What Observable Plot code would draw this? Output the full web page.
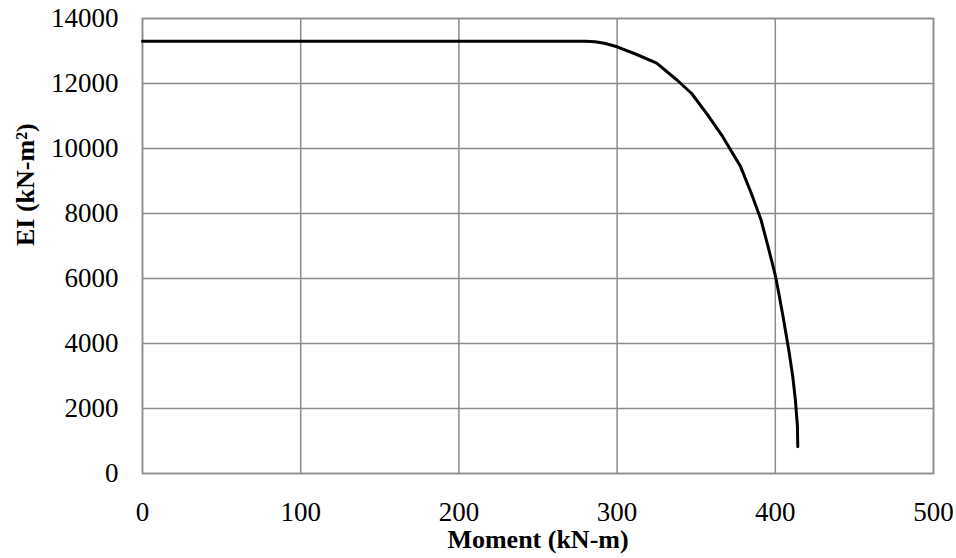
<!DOCTYPE html>
<html>
<head>
<meta charset="utf-8">
<script src="https://cdn.jsdelivr.net/npm/d3@7"></script>
<script src="https://cdn.jsdelivr.net/npm/@observablehq/plot@0.6"></script>
<style>
  html, body { margin: 0; padding: 0; background: #fff; }
  svg text { font-family: "Liberation Serif", "Times New Roman", serif !important; }
  svg g[aria-label="x-axis tick label"] text,
  svg g[aria-label="y-axis tick label"] text { font-size: 27px !important; font-variant-numeric: normal !important; }
</style>
</head>
<body>
<div id="chart"></div>
<script>
const moment = [0, 280, 286, 292, 300, 312, 325, 338, 347, 357, 366, 378, 385, 391, 396, 400, 402, 405, 408.5, 411, 412.7, 414, 414.2];
const ei = [13300, 13300, 13285, 13240, 13130, 12900, 12630, 12100, 11700, 11050, 10420, 9450, 8600, 7800, 6870, 6100, 5600, 4800, 3800, 3000, 2260, 1450, 820];
const xTicks = [0, 100, 200, 300, 400, 500];
const yTicks = [0, 2000, 4000, 6000, 8000, 10000, 12000, 14000];
const xLabel = "Moment (kN-m)";
const yLabel = "EI (kN-m²)";

const data = moment.map((m, i) => ({m, e: ei[i]}));
const grid = "#8c8c8c";
const serif = "Liberation Serif";

const chart = Plot.plot({
  width: 956,
  height: 558,
  marginLeft: 142,
  marginRight: 23,
  marginTop: 18,
  marginBottom: 85,
  style: {fontFamily: serif, fontSize: "27px", color: "#000", background: "#fff"},
  x: {domain: [0, 500], ticks: xTicks},
  y: {domain: [0, 14000], ticks: yTicks},
  marks: [
    Plot.gridX(xTicks, {stroke: grid, strokeOpacity: 1, strokeWidth: 1.5}),
    Plot.gridY(yTicks, {stroke: grid, strokeOpacity: 1, strokeWidth: 1.5}),
    Plot.frame({stroke: grid, strokeWidth: 1.5}),
    Plot.axisX(xTicks, {tickSize: 0, tickPadding: 28, label: null, fontSize: 27, fontFamily: serif}),
    Plot.axisY(yTicks, {tickSize: 0, tickPadding: 24, label: null, fontSize: 27, fontFamily: serif, tickFormat: d => String(d)}),
    Plot.line(data, {x: "m", y: "e", stroke: "#000", strokeWidth: 3, curve: "linear", strokeLinejoin: "round"}),
    Plot.text([xLabel], {frameAnchor: "bottom", dy: 74, fontWeight: "bold", fontSize: 26, fontFamily: serif}),
    Plot.text([yLabel], {frameAnchor: "left", dx: -117, rotate: -90, fontWeight: "bold", fontSize: 26, fontFamily: serif})
  ]
});
document.getElementById("chart").appendChild(chart);
</script>
</body>
</html>
